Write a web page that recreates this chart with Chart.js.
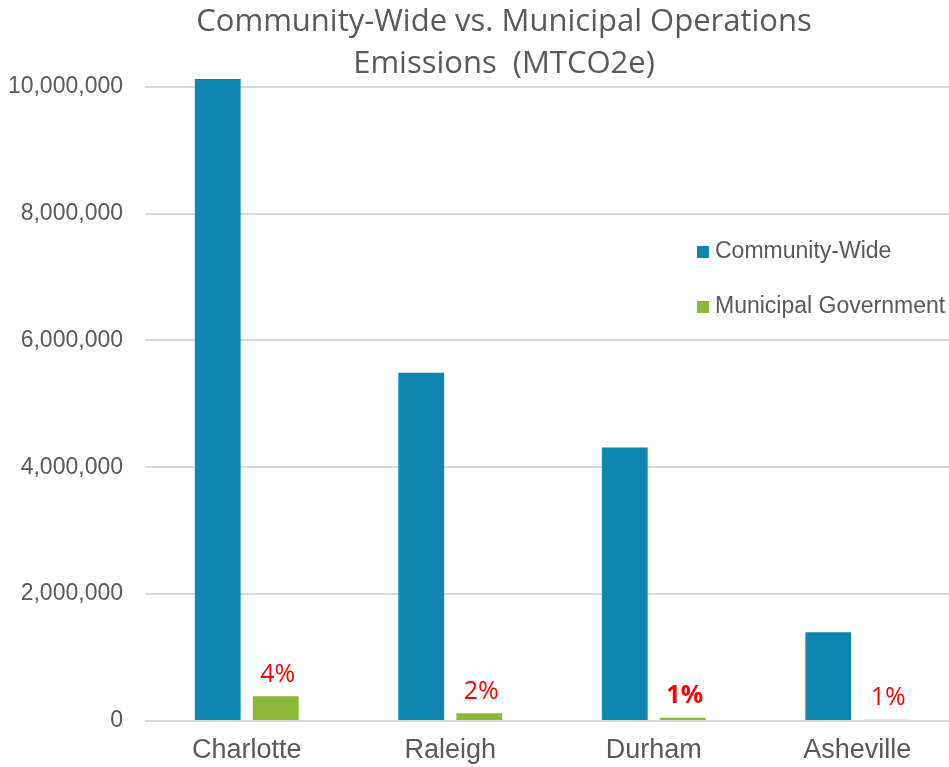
<!DOCTYPE html>
<html>
<head>
<meta charset="utf-8">
<script src="https://cdn.jsdelivr.net/npm/chart.js@4"></script>
<style>
html, body { margin:0; padding:0; background:#fff; overflow:hidden; }
#wrap { width:949px; height:767px; overflow:hidden; }
</style>
</head>
<body>
<div id="wrap"><canvas id="emChart" width="960" height="767"></canvas></div>
<script>
// data
const cities = ['Charlotte','Raleigh','Durham','Asheville'];
const communityWide = [10120000, 5490000, 4310000, 1400000];
const municipalGov = [390000, 121000, 52000, 18000];
const shareLabels = ['4%','2%','1%','1%'];
const titleLines = ['Community-Wide vs. Municipal Operations','Emissions  (MTCO2e)'];
const yTicks = [0, 2000000, 4000000, 6000000, 8000000, 10000000];

const grey = '#595959';

// title drawn by hand so the plot can start right under it
const titlePlugin = {
  id:'titleText',
  afterDraw(chart){
    const c = chart.ctx;
    c.save();
    c.fillStyle = grey;
    c.font = '31px "Open Sans"';
    c.textAlign = 'center';
    c.textBaseline = 'middle';
    c.fillText(titleLines[0], 504, 22);
    c.fillText(titleLines[1], 504, 64);
    c.restore();
  }
};

// legend inside the plot, right side
const legendPlugin = {
  id:'boxLegend',
  afterDraw(chart){
    const c = chart.ctx;
    c.save();
    c.font = '23px "Liberation Sans"';
    c.textBaseline = 'middle';
    chart.data.datasets.forEach((ds, i) => {
      const y = 252 + i*55;
      c.fillStyle = ds.backgroundColor;
      c.fillRect(697, y-6, 12, 12);
      c.fillStyle = grey;
      c.fillText(ds.label, 715, y);
    });
    c.restore();
  }
};

// red share labels above the green bars
const shareStyle = { bold:[false,false,true,false] };
const sharePlugin = {
  id:'shareText',
  afterDatasetsDraw(chart){
    const c = chart.ctx;
    const meta = chart.getDatasetMeta(1);
    c.save();
    c.fillStyle = '#ff0000';
    c.textAlign = 'center';
    c.textBaseline = 'bottom';
    meta.data.forEach((bar, i) => {
      c.font = (shareStyle.bold[i] ? 'bold ' : '') + '25px "Open Sans"';
      c.fillText(shareLabels[i], bar.x + 2, bar.y - 9);
    });
    c.restore();
  }
};

new Chart(document.getElementById('emChart'), {
  type:'bar',
  data:{
    labels: cities,
    datasets:[
      { label:'Community-Wide', data: communityWide, backgroundColor:'#0d87b0' },
      { label:'Municipal Government', data: municipalGov, backgroundColor:'#8cb83a' }
    ]
  },
  options:{
    responsive:false,
    animation:false,
    categoryPercentage:0.57,
    barPercentage:0.79,
    layout:{ padding:{ top:74, left:0, right:1, bottom:0 } },
    plugins:{
      legend:{ display:false },
      title:{ display:false },
      tooltip:{ enabled:false }
    },
    scales:{
      x:{
        afterFit(scale){ scale.height = 46; },
        grid:{ display:false, drawTicks:false },
        border:{ display:false },
        ticks:{ color:grey, font:{ family:'"Liberation Sans"', size:27 }, padding:13 }
      },
      y:{
        min:0,
        max:10200000,
        afterFit(scale){ scale.width = 145; },
        afterBuildTicks(scale){ scale.ticks = yTicks.map(v => ({ value:v })); },
        grid:{ color:'#d9d9d9', lineWidth:2, drawTicks:false },
        border:{ display:false },
        ticks:{
          color:grey,
          font:{ family:'"Liberation Sans"', size:23 },
          padding:22,
          callback:(v) => v.toLocaleString('en-US')
        }
      }
    }
  },
  plugins:[titlePlugin, legendPlugin, sharePlugin]
});
</script>
</body>
</html>
